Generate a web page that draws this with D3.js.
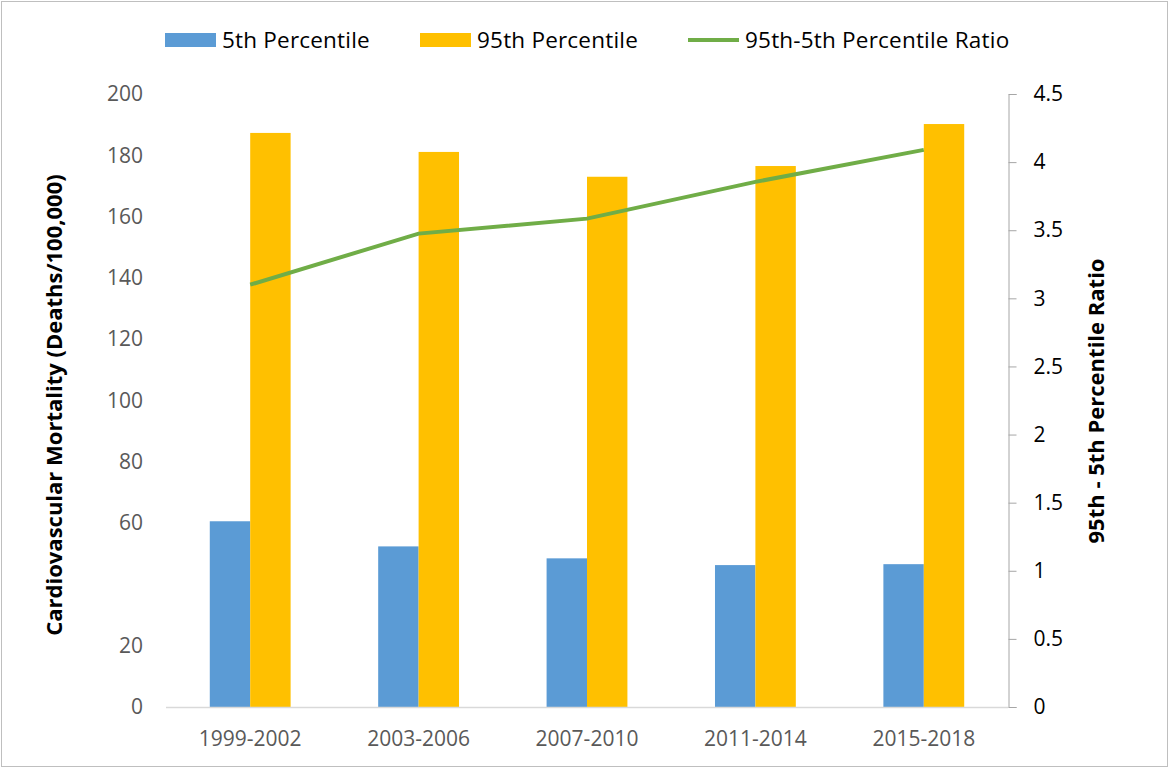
<!DOCTYPE html>
<html>
  <head>
    <meta charset="utf-8">
    <script src="https://d3js.org/d3.v7.min.js"></script>
    <title>Cardiovascular Mortality Percentiles</title>
    <style>
      body { margin: 0px; background: #fff; }
      text { font-family: 'Open Sans', sans-serif; }
      .tick-left text { fill: #595959; font-size: 21px; }
      .tick-right text { fill: #000; font-size: 21px; }
      .tick-x text { fill: #595959; font-size: 21px; }
      .legend text { fill: #000; font-size: 22.5px; letter-spacing: 0.2px; }
      .axis-title { fill: #000; font-size: 22px; font-weight: bold; }
    </style>
  </head>
  <body>
    <svg width="1173" height="769"></svg>
    <script>
      const periods = ['1999-2002', '2003-2006', '2007-2010', '2011-2014', '2015-2018'];
      const p5 = [60.6, 52.4, 48.5, 46.3, 46.6];
      const p95 = [187.3, 181.1, 173.0, 176.5, 190.2];
      const ratio = [3.10, 3.475, 3.585, 3.855, 4.09];
      const leftTicks = [0, 20, 60, 80, 100, 120, 140, 160, 180, 200];
      const rightTicks = [0, 0.5, 1, 1.5, 2, 2.5, 3, 3.5, 4, 4.5];
      const seriesNames = ['5th Percentile', '95th Percentile', '95th-5th Percentile Ratio'];

      const colors = { p5: '#5B9BD5', p95: '#FFC000', ratio: '#70AD47' };
      const plot = { left: 166, right: 1008, top: 94, bottom: 707 };

      const svg = d3.select('svg');

      // outer chart border
      svg.append('rect')
        .attr('x', 1.5).attr('y', 1.5)
        .attr('width', 1166).attr('height', 765)
        .attr('fill', 'none')
        .attr('stroke', '#BFBFBF');

      const xScale = d3.scaleBand()
        .domain(periods)
        .range([plot.left, plot.right])
        .paddingInner(0.52)
        .paddingOuter(0.26);
      const xSub = d3.scaleBand()
        .domain(['p5', 'p95'])
        .range([0, xScale.bandwidth()]);
      const xCenter = d => xScale(d) + xScale.bandwidth() / 2;

      const yLeft = d3.scaleLinear().domain([0, 200]).range([plot.bottom, plot.top]);
      const yRight = d3.scaleLinear().domain([0, 4.5]).range([plot.bottom, plot.top]);

      // bars
      const groups = svg.append('g').selectAll('g')
        .data(periods)
        .join('g')
          .attr('transform', d => `translate(${xScale(d)},0)`);

      groups.append('rect')
        .attr('x', xSub('p5'))
        .attr('width', xSub.bandwidth())
        .attr('y', (d, i) => yLeft(p5[i]))
        .attr('height', (d, i) => plot.bottom - yLeft(p5[i]))
        .attr('fill', colors.p5);

      groups.append('rect')
        .attr('x', xSub('p95'))
        .attr('width', xSub.bandwidth())
        .attr('y', (d, i) => yLeft(p95[i]))
        .attr('height', (d, i) => plot.bottom - yLeft(p95[i]))
        .attr('fill', colors.p95);

      // x axis
      const xAxisG = svg.append('g')
        .attr('class', 'tick-x')
        .attr('transform', `translate(0,${plot.bottom})`)
        .call(d3.axisBottom(xScale).tickSize(0).tickPadding(24));
      xAxisG.select('.domain').remove();
      svg.append('line')
        .attr('x1', plot.left).attr('x2', plot.right)
        .attr('y1', plot.bottom + 0.5).attr('y2', plot.bottom + 0.5)
        .attr('stroke', '#D9D9D9').attr('stroke-width', 1.5);

      // left axis (no line, no tick marks)
      const leftAxisG = svg.append('g')
        .attr('class', 'tick-left')
        .attr('transform', `translate(${plot.left},0)`)
        .call(d3.axisLeft(yLeft).tickValues(leftTicks).tickSize(0).tickPadding(23));
      leftAxisG.select('.domain').remove();

      // right axis
      const rightAxisG = svg.append('g')
        .attr('class', 'tick-right')
        .attr('transform', `translate(${plot.right + 0.5},0)`)
        .call(d3.axisRight(yRight).tickValues(rightTicks).tickSize(8).tickPadding(17)
          .tickFormat(d3.format('')));
      rightAxisG.select('.domain').attr('stroke', '#A6A6A6');
      rightAxisG.selectAll('.tick line').attr('stroke', '#A6A6A6');

      // ratio line
      const line = d3.line()
        .x((d, i) => xCenter(periods[i]))
        .y(d => yRight(d));
      svg.append('path')
        .datum(ratio)
        .attr('fill', 'none')
        .attr('stroke', colors.ratio)
        .attr('stroke-width', 4)
        .attr('d', line);

      // axis titles
      svg.append('text')
        .attr('class', 'axis-title')
        .attr('transform', 'translate(62,405) rotate(-90)')
        .attr('text-anchor', 'middle')
        .text('Cardiovascular Mortality (Deaths/100,000)');
      svg.append('text')
        .attr('class', 'axis-title')
        .attr('transform', 'translate(1104,401) rotate(-90)')
        .attr('text-anchor', 'middle')
        .text('95th - 5th Percentile Ratio');

      // legend
      const legend = svg.append('g').attr('class', 'legend');
      const legendX = [165, 420, 688];
      const legendY = 40;
      legend.append('rect')
        .attr('x', legendX[0]).attr('y', legendY - 7)
        .attr('width', 51).attr('height', 14)
        .attr('fill', colors.p5);
      legend.append('rect')
        .attr('x', legendX[1]).attr('y', legendY - 7)
        .attr('width', 51).attr('height', 14)
        .attr('fill', colors.p95);
      legend.append('line')
        .attr('x1', legendX[2]).attr('x2', legendX[2] + 51)
        .attr('y1', legendY).attr('y2', legendY)
        .attr('stroke', colors.ratio).attr('stroke-width', 4);
      legend.selectAll('text')
        .data(seriesNames)
        .join('text')
          .attr('x', (d, i) => legendX[i] + 57)
          .attr('y', legendY)
          .attr('dy', '0.35em')
          .text(d => d);
    </script>
  </body>
</html>
